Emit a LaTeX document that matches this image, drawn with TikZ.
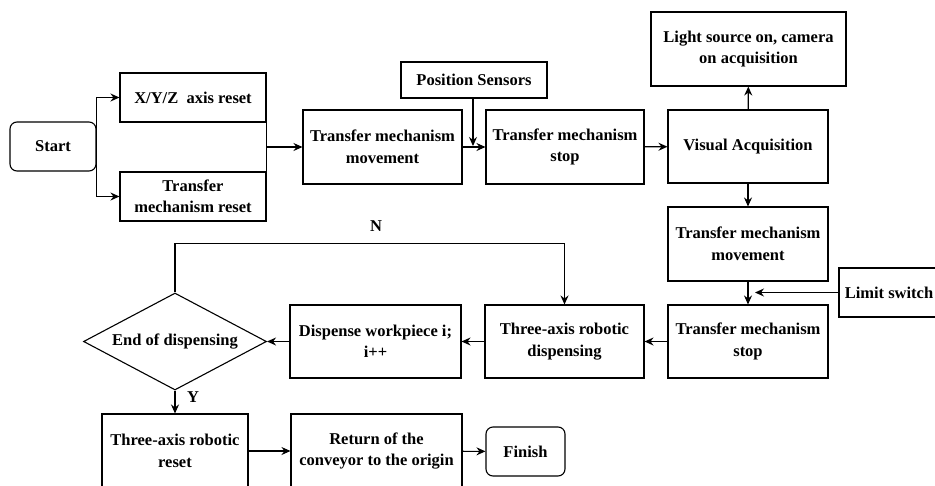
\documentclass[tikz,border=0pt]{standalone}
\usepackage{fontspec}
\setmainfont{Liberation Serif}
\usetikzlibrary{shapes.geometric,arrows.meta}

\tikzset{
  box/.style={draw, rectangle, inner sep=0pt, align=center},
  term/.style={box, rounded corners=7pt},
  decision/.style={draw, diamond, aspect=1.89, inner sep=0pt, align=center},
  flow/.style={-{Stealth[length=9pt,width=8pt,inset=3pt]}},
}

\begin{document}
\begin{tikzpicture}[x=1pt, y=-1pt, line width=1.1pt,
  font=\fontsize{16.5}{21.5}\selectfont\bfseries]
  \useasboundingbox (0,0) rectangle (935,485);
  \clip (0,0) rectangle (935,485);

  % upper row
  \node[term, minimum width=86pt, minimum height=49pt] (start) at (53,146.5) {Start};
  \node[box, minimum width=146pt, minimum height=49pt] (xyz) at (193,97.5) {X/Y/Z\ \ axis reset};
  \node[box, minimum width=146pt, minimum height=49pt] (tmr) at (193,196.5) {Transfer\\mechanism reset};
  \node[box, minimum width=159pt, minimum height=74pt] (tmm1) at (382.5,147) {Transfer mechanism\\movement};
  \node[box, minimum width=146pt, minimum height=36pt] (ps) at (474,80) {Position Sensors};
  \node[box, minimum width=158pt, minimum height=74pt] (tms1) at (565,147) {Transfer mechanism\\stop};
  \node[box, minimum width=160pt, minimum height=73pt] (va) at (748,146.5) {Visual Acquisition};
  \node[box, minimum width=195pt, minimum height=74pt] (light) at (748.5,49) {Light source on, camera\\on acquisition};

  % right column
  \node[box, minimum width=160pt, minimum height=74pt] (tmm2) at (748,244) {Transfer mechanism\\movement};
  \node[box, minimum width=160pt, minimum height=73pt] (tms2) at (748,341.5) {Transfer mechanism\\stop};
  \node[box, minimum width=100pt, minimum height=49pt] (limit) at (889,292.5) {Limit switch};

  % dispensing row
  \node[box, minimum width=159pt, minimum height=73pt] (disp) at (564.5,341.5) {Three-axis robotic\\dispensing};
  \node[box, minimum width=171pt, minimum height=73pt] (dw) at (375.5,341.5) {Dispense workpiece i;\\i++};
  \node[decision, minimum width=183pt, minimum height=97pt] (eod) at (175,341.5) {End of dispensing};

  % bottom row
  \node[box, minimum width=146pt, minimum height=74pt] (reset) at (175,451) {Three-axis robotic\\reset};
  \node[box, minimum width=171pt, minimum height=74pt] (ret) at (376.5,451) {Return of the\\conveyor to the origin};
  \node[term, minimum width=79pt, minimum height=49pt] (fin) at (525.5,451.5) {Finish};

  \coordinate (pj) at (473,146);
  \coordinate (lj) at (755,292.5);

  % connectors
  \draw[flow] (start.east) |- (xyz.west);
  \draw[flow] (start.east) |- (tmr.west);
  \draw (xyz.south east) -- (tmr.north east);
  \draw[flow] (xyz.south east |- tmm1.west) -- (tmm1.west);
  \draw[flow] (tmm1) -- (tms1);
  \draw[flow] (ps.south -| pj) -- (pj);
  \draw[flow] (tms1) -- (va);
  \draw[flow] (va) -- (light);
  \draw[flow] (va) -- (tmm2);
  \draw[flow] (tmm2) -- (tms2);
  \draw[flow] (limit.west) -- (lj);
  \draw[flow] (tms2) -- (disp);
  \draw[flow] (disp) -- (dw);
  \draw[flow] (dw) -- (eod.east);
  \draw[flow] (eod.north) -- ++(0,-49) -| (disp.north);
  \draw[flow] (eod.south) -- (reset.north);
  \draw[flow] (reset) -- (ret);
  \draw[flow] (ret) -- (fin);

  \node (n) at (376,226) {N};
  \node (y) at (193,397) {Y};
\end{tikzpicture}
\end{document}
